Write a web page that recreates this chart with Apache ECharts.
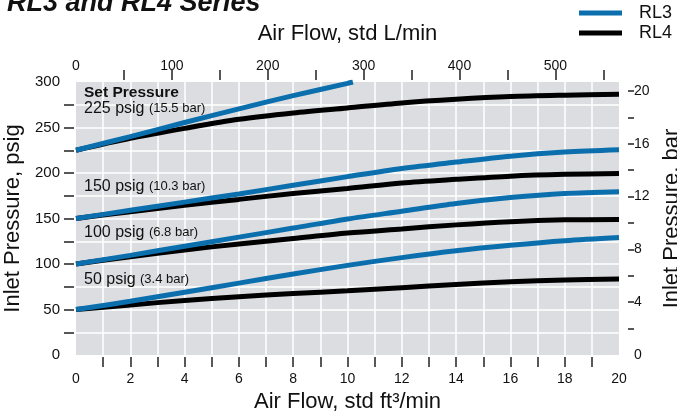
<!DOCTYPE html>
<html>
<head>
<meta charset="utf-8">
<script src="https://cdn.jsdelivr.net/npm/echarts@6/dist/echarts.min.js"></script>
<style>
html,body{margin:0;padding:0;background:#fff;}
#chart{width:677px;height:419px;}
</style>
</head>
<body>
<div id="chart"></div>
<script>
// ---- data ----
const flows = [0, 2, 4, 6, 8, 10, 12, 14, 16, 18, 20];           // std ft3/min
const rl3_225_flows = [0, 2, 4, 6, 8, 10, 10.2];
const rl3_225 = [225, 240, 255.5, 270.5, 285, 298.5, 300];
const rl4_225 = [225, 238, 249, 259, 266, 271.5, 277, 281, 284, 285.5, 286.5];
const rl3_150 = [150, 159, 168, 177, 186.5, 196, 205, 212, 218.5, 223, 225.5];
const rl4_150 = [150, 157.5, 164.5, 171, 177.5, 183, 189, 193, 196.5, 198.5, 199.5];
const rl3_100 = [100, 109.5, 119.5, 129.5, 139.5, 149.5, 158, 166.5, 173, 177.5, 179.5];
const rl4_100 = [100, 108, 115.5, 122, 128, 134, 138.5, 143, 146.5, 148.5, 149];
const rl3_50 = [50, 59, 69, 79, 89, 98.5, 107, 114.5, 120.5, 125.5, 129];
const rl4_50 = [50, 55, 60, 64, 67.5, 70.5, 74, 77.5, 80.5, 82.5, 83.5];

const setPressures = ['225 psig', '150 psig', '100 psig', '50 psig'];
const setPressuresBar = ['(15.5 bar)', '(10.3 bar)', '(6.8 bar)', '(3.4 bar)'];

const xTickLabels = [0, 2, 4, 6, 8, 10, 12, 14, 16, 18, 20];
const xMinorTicks = [1, 2, 3, 4, 5, 6, 7, 8, 9, 10, 11, 12, 13, 14, 15, 16, 17, 18, 19];
const topTickLabels = [0, 100, 200, 300, 400, 500];
const topTicks = [50, 100, 150, 200, 250, 300, 350, 400, 450, 500, 550];
const psigLabels = [0, 50, 100, 150, 200, 250, 300];
const psigTicks = [25, 50, 75, 100, 125, 150, 175, 200, 225, 250, 275];
const barLabels = [0, 4, 8, 12, 16, 20];
const barTicks = [2, 4, 6, 8, 10, 12, 14, 16, 18, 20];

const LPM_PER_CFM = 28.3168;
const PSI_PER_BAR = 14.5038;

// ---- styling ----
const FONT = 'Liberation Sans';
const BLUE = '#0b6fae';
const BLACK = '#000000';
const LW = 5;

function pairs(xs, ys) { return ys.map((v, i) => [xs[i], v]); }

const curves = [
  { name: 'RL4', color: BLACK, data: pairs(flows, rl4_225) },
  { name: 'RL4', color: BLACK, data: pairs(flows, rl4_150) },
  { name: 'RL4', color: BLACK, data: pairs(flows, rl4_100) },
  { name: 'RL4', color: BLACK, data: pairs(flows, rl4_50) },
  { name: 'RL3', color: BLUE, data: pairs(rl3_225_flows, rl3_225) },
  { name: 'RL3', color: BLUE, data: pairs(flows, rl3_150) },
  { name: 'RL3', color: BLUE, data: pairs(flows, rl3_100) },
  { name: 'RL3', color: BLUE, data: pairs(flows, rl3_50) }
];

const labelY = [109, 187, 233, 280];
const annotations = [{
  type: 'text', x: 84, y: 93, z: 100,
  style: { text: 'Set Pressure', fontSize: 15.5, fontWeight: 'bold', fontFamily: FONT, fill: '#111', verticalAlign: 'middle' }
}].concat(setPressures.map((t, i) => ({
  type: 'text', x: 84, y: labelY[i], z: 100,
  style: {
    text: '{a|' + t + '} {b|' + setPressuresBar[i] + '}',
    verticalAlign: 'middle', fontFamily: FONT, fontSize: 16, fill: '#111',
    rich: {
      a: { fontSize: 16, fontFamily: FONT, fill: '#111' },
      b: { fontSize: 13, fontFamily: FONT, fill: '#111', padding: [0, 0, 1, 0] }
    }
  }
})));

const tickStyle = { color: '#222', width: 1.5 };

const chart = echarts.init(document.getElementById('chart'), null, { renderer: 'canvas' });
chart.setOption({
  animation: false,
  backgroundColor: '#ffffff',
  textStyle: { fontFamily: FONT },
  title: {
    text: 'RL3 and RL4 Series', left: 7, top: -10, padding: 0,
    textStyle: { fontSize: 27, fontWeight: 'bold', fontStyle: 'italic', fontFamily: FONT, color: '#111' }
  },
  legend: {
    data: ['RL3', 'RL4'], orient: 'vertical', left: 579, top: 3, padding: 0,
    icon: 'rect', itemWidth: 43, itemHeight: 5, itemGap: 0,
    textStyle: { fontSize: 18, fontFamily: FONT, color: '#111', lineHeight: 20, padding: [0, 0, 0, 12] }
  },
  grid: {
    left: 76, right: 58, top: 82, bottom: 64, containLabel: false, outerBoundsMode: 'none',
    show: true, backgroundColor: '#dcdde0', borderWidth: 0
  },
  xAxis: [{
    type: 'value', position: 'bottom', min: 0, max: 20, interval: 2, offset: 2,
    name: 'Air Flow, std ft³/min', nameLocation: 'middle', nameGap: 31,
    nameTextStyle: { fontSize: 22, fontFamily: FONT, color: '#111' },
    axisLine: { show: false, onZero: false },
    axisTick: { show: true, inside: false, customValues: xMinorTicks, length: 10, lineStyle: tickStyle },
    axisLabel: { customValues: xTickLabels, fontSize: 14, color: '#111', margin: 15 },
    splitLine: { show: true, lineStyle: { color: '#ffffff', width: 1.5 } }
  }, {
    type: 'value', position: 'top', min: 0, max: 20 * LPM_PER_CFM, offset: 2,
    name: 'Air Flow, std L/min', nameLocation: 'middle', nameGap: 35,
    nameTextStyle: { fontSize: 22, fontFamily: FONT, color: '#111' },
    axisLine: { show: false, onZero: false },
    axisTick: { show: true, inside: false, customValues: topTicks, length: 10, lineStyle: tickStyle },
    axisLabel: { customValues: topTickLabels, fontSize: 14, color: '#111', margin: 7 },
    splitLine: { show: false }
  }],
  yAxis: [{
    type: 'value', position: 'left', min: 0, max: 300, interval: 50, offset: 2,
    name: 'Inlet Pressure, psig', nameLocation: 'middle', nameGap: 46, nameRotate: 90,
    nameTextStyle: { fontSize: 22, fontFamily: FONT, color: '#111' },
    axisLine: { show: false, onZero: false },
    axisTick: { show: true, inside: false, customValues: psigTicks, length: 10, lineStyle: tickStyle },
    axisLabel: { customValues: psigLabels, fontSize: 15, color: '#111', margin: 14 },
    splitLine: { show: true, lineStyle: { color: '#ffffff', width: 1.5 } }
  }, {
    type: 'value', position: 'right', min: 0, max: 300 / PSI_PER_BAR, offset: 9,
    name: 'Inlet Pressure, bar', nameLocation: 'middle', nameGap: 31, nameRotate: 90,
    nameTextStyle: { fontSize: 22, fontFamily: FONT, color: '#111' },
    axisLine: { show: false, onZero: false },
    axisTick: { show: true, inside: false, customValues: barTicks, length: 6, lineStyle: tickStyle },
    axisLabel: { customValues: barLabels, fontSize: 14, color: '#111', margin: 6 },
    splitLine: { show: false }
  }],
  series: curves.map(c => ({
    type: 'line', name: c.name, xAxisIndex: 0, yAxisIndex: 0, data: c.data,
    smooth: 0.3, showSymbol: false, symbol: 'none', clip: true, color: c.color,
    lineStyle: { color: c.color, width: LW, cap: 'butt' },
    emphasis: { disabled: true }
  })),
  graphic: annotations
});
</script>
</body>
</html>
